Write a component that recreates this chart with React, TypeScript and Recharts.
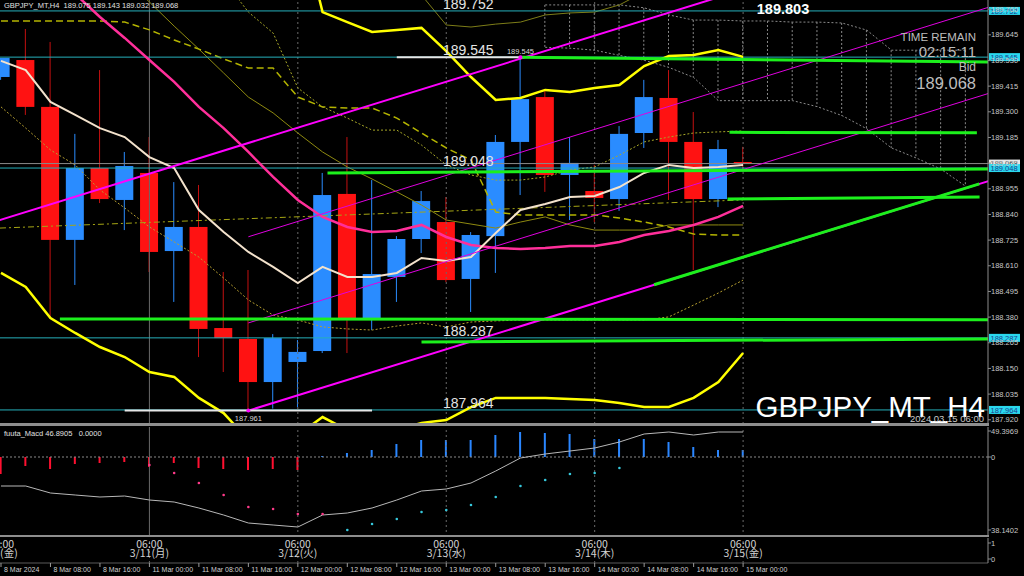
import React from "react";
import {
  ComposedChart,
  XAxis,
  YAxis,
  Bar,
  Line,
  ReferenceLine,
  ReferenceDot,
} from "recharts";

const SANS = "'Liberation Sans', Arial, sans-serif";
const NARROW = "'Liberation Sans Narrow', 'Liberation Sans', Arial, sans-serif";
const JP = "'Noto Sans CJK JP', 'Liberation Sans', sans-serif";

// H4 candles, index 0 = 8 Mar 00:00 (server time)
const candleOpen = [189.456, 189.532, 189.322, 188.726, 189.048, 188.905, 189.026, 188.676, 188.784, 188.331, 188.282, 188.089, 188.179, 188.228, 188.932, 188.376, 188.56, 188.73, 188.806, 188.551, 188.743, 189.165, 189.366, 189.017, 188.945, 188.909, 189.205, 189.362, 189.165, 188.909, 189.075];
const candleHigh = [189.541, 189.671, 189.613, 189.201, 189.487, 189.12, 189.187, 188.985, 188.972, 188.582, 188.591, 188.304, 188.277, 189.026, 189.187, 188.994, 188.743, 188.945, 188.918, 188.761, 189.196, 189.545, 189.402, 189.187, 189.062, 189.236, 189.443, 189.487, 189.299, 189.174, 189.143];
const candleLow = [189.443, 189.286, 188.381, 188.524, 188.891, 188.77, 188.582, 188.448, 188.201, 188.134, 187.961, 187.97, 187.977, 188.219, 188.219, 188.322, 188.448, 188.667, 188.537, 188.403, 188.578, 188.927, 188.941, 188.815, 188.806, 188.856, 189.138, 188.905, 188.591, 188.873, 189.032];
const candleClose = [189.541, 189.322, 188.726, 189.048, 188.909, 189.057, 188.672, 188.784, 188.327, 188.286, 188.089, 188.286, 188.224, 188.927, 188.376, 188.573, 188.73, 188.9, 188.546, 188.748, 189.165, 189.357, 189.017, 189.071, 188.914, 189.201, 189.366, 189.165, 188.909, 189.133, 189.068];

// indicators on the price window
const maFast = [189.528, 189.487, 189.344, 189.286, 189.227, 189.187, 189.097, 189.048, 188.86, 188.761, 188.672, 188.605, 188.533, 188.605, 188.56, 188.56, 188.578, 188.645, 188.631, 188.649, 188.757, 188.86, 188.887, 188.918, 188.923, 188.963, 189.026, 189.062, 189.048, 189.053, 189.062];
const maSlow = [190.128, 190.025, 189.926, 189.828, 189.725, 189.631, 189.532, 189.434, 189.322, 189.227, 189.12, 189.008, 188.905, 188.829, 188.784, 188.761, 188.766, 188.793, 188.739, 188.703, 188.69, 188.685, 188.69, 188.699, 188.699, 188.717, 188.748, 188.766, 188.793, 188.829, 188.878];
const bbUpper = [null, null, null, null, null, null, null, null, null, null, null, null, 190.19, 189.747, 189.702, 189.658, 189.667, 189.676, 189.572, 189.456, 189.353, 189.362, 189.398, 189.389, 189.407, 189.42, 189.505, 189.55, 189.555, 189.577, 189.546];
const bbLower = [188.578, 188.515, 188.376, 188.309, 188.246, 188.201, 188.134, 188.112, 188.018, 187.95, 187.829, 187.807, 187.852, 187.932, 187.874, 187.852, 187.874, 187.906, 187.919, 187.977, 188.018, 188.018, 188.018, 188.013, 188.009, 187.995, 187.977, 187.977, 188.018, 188.089, 188.219];
const oliveLine = [null, null, null, null, null, 189.9, 189.792, 189.684, 189.581, 189.474, 189.366, 189.295, 189.205, 189.12, 189.053, 188.999, 188.941, 188.882, 188.815, 188.797, 188.779, 188.806, 188.829, 188.793, 188.77, 188.77, 188.77, 188.793, 188.793, 188.793, 188.793];
const kijunLine = [189.707, 189.707, 189.707, 189.707, 189.707, 189.702, 189.667, 189.622, 189.581, 189.537, 189.496, 189.496, 189.366, 189.322, 189.317, 189.317, 189.272, 189.205, 189.138, 189.084, 188.851, 188.838, 188.838, 188.838, 188.838, 188.824, 188.806, 188.784, 188.752, 188.748, 188.748];
const dottedLow = [189.322, 189.227, 189.129, 189.062, 188.95, 188.869, 188.784, 188.717, 188.649, 188.555, 188.457, 188.389, 188.367, 188.336, 188.327, 188.322, 188.34, 188.354, 188.336, 188.358, 188.363, 188.367, 188.367, 188.367, 188.367, 188.367, 188.367, 188.381, 188.434, 188.488, 188.546];
const dottedHigh = [null, null, null, null, null, null, null, null, null, 189.891, 189.747, 189.653, 189.407, 189.322, 189.272, 189.218, 189.218, 189.151, 189.062, 189.017, 188.994, 188.994, 189.008, 189.039, 189.053, 189.106, 189.165, 189.187, 189.205, 189.21, 189.214];
const outerBand = [null, null, null, null, null, null, null, null, null, null, null, null, null, null, null, null, 189.98, 189.823, 189.689, 189.68, 189.693, 189.702, 189.734, 189.743, 189.747, 189.779, 189.837, 189.88, 189.9, 189.92, 189.93];

// future cloud, starting at candle 22
const CLOUD_START = 22;
const cloudTop = [189.779, 189.779, 189.779, 189.779, 189.766, 189.734, 189.711, 189.711, 189.707, 189.707, 189.702, 189.702, 189.698, 189.666, 189.576, 189.576, 189.576, 189.576];
const cloudBottom = [189.589, 189.585, 189.576, 189.553, 189.531, 189.499, 189.454, 189.35, 189.35, 189.35, 189.35, 189.323, 189.283, 189.224, 189.138, 189.093, 189.043, 188.966];

// MACD sub window (scaled units)
const macdHist = [-17, -9, -12, -7, -6, -5, -10, -6, -11, -12, -13, -12, -13, 1, 4, 7, 13, 17, 17, 17, 22, 25, 24, 23, 18, 18, 18, 15, 10, 7, 7];
const macdLine = [-29, -29, -36, -38, -40, -39, -43, -45, -51, -58, -66, -68, -70, -58, -56, -51, -43, -34, -32, -26, -14, -1, 3, 6, 9, 15, 23, 25, 22, 25, 25];
const macdSignal = [null, null, null, null, null, null, -8, -16, -26, -38, -50, -52, -57, -57, -73, -67, -62, -55, -53, -48, -40, -29, -23, -17, -16, -11, null, null, null, null, null];
const SIGNAL_TURN = 14;
const macdTicks = [26, 0, -73];
const macdTickLabels = ["49.3969", "0", "38.1402"];

// axes
const priceTicks = [187.92, 188.035, 188.15, 188.265, 188.38, 188.495, 188.61, 188.725, 188.84, 188.955, 189.07, 189.185, 189.3, 189.415, 189.53, 189.645, 189.76];
const levelPrices = [189.752, 189.545, 189.048, 188.287, 187.964];
const bidPrice = candleClose[candleClose.length - 1];
const timeTickIdx = [0, 2, 4, 6, 8, 10, 12, 14, 16, 18, 20, 22, 24, 26, 28, 30];
const timeLabels = ["8 Mar 2024", "8 Mar 08:00", "8 Mar 16:00", "11 Mar 00:00", "11 Mar 08:00", "11 Mar 16:00", "12 Mar 00:00", "12 Mar 08:00", "12 Mar 16:00", "13 Mar 00:00", "13 Mar 08:00", "13 Mar 16:00", "14 Mar 00:00", "14 Mar 08:00", "14 Mar 16:00", "15 Mar 00:00"];
const dayIdx = [0, 6, 12, 18, 24, 30];
const dayLabels = ["3/8(金)", "3/11(月)", "3/12(火)", "3/13(水)", "3/14(木)", "3/15(金)"];
const daySeparatorIdx = [6, 12, 18, 24, 30];

// hand drawn objects: [x1, price1, x2, price2]
const channelUpper = [-1, 188.782, 40, 190.191];
const channelLower = [10, 187.961, 40, 188.992];
const channelThin = [
  [10, 188.74, 40, 189.771],
  [10, 188.354, 40, 189.385],
];
const greenLines = [
  [21, 189.545, 39.9, 189.523],
  [29.45, 189.208, 39.45, 189.206],
  [13.2, 189.026, 39.9, 189.044],
  [29.37, 188.909, 39.56, 188.918],
  [2.38, 188.372, 39.9, 188.368],
  [17, 188.269, 39.9, 188.282],
  [26.4, 188.525, 39.55, 188.977],
];
const whiteSegments = [
  [16, 189.545, 21, 189.545],
  [5, 187.961, 15, 187.961],
];
const regressionLine = [-0.04, 188.779, 30, 188.905];
const extremeDots = [
  { i: 21, price: 189.545, below: false },
  { i: 10, price: 187.961, below: true },
];

const X_DOMAIN: [number, number] = [-0.04, 39.9];
const PRICE_DOMAIN: [number, number] = [187.901, 189.801];
const MACD_DOMAIN: [number, number] = [-80, 30];

const SLOTS = 40;
const priceRows = Array.from({ length: SLOTS }, (_, i) => ({
  i,
  open: candleOpen[i],
  high: candleHigh[i],
  low: candleLow[i],
  close: candleClose[i],
  maFast: maFast[i],
  maSlow: maSlow[i],
  bbUpper: bbUpper[i],
  bbLower: bbLower[i],
  olive: oliveLine[i],
  kijun: kijunLine[i],
  dotLow: dottedLow[i],
  dotHigh: dottedHigh[i],
  outer: outerBand[i],
  cloudTop: i >= CLOUD_START ? cloudTop[i - CLOUD_START] : undefined,
  cloudBottom: i >= CLOUD_START ? cloudBottom[i - CLOUD_START] : undefined,
}));

const macdRows = macdHist.map((h, i) => ({
  i,
  hist: h,
  macd: macdLine[i],
  signal: macdSignal[i],
}));

const BULL = "#2a8cff";
const BEAR = "#ff1212";
const BEAR_WICK = "#c41010";
const AXIS = "#8c8c8c";
const CYAN_LINE = "#26b0bb";
const GREEN = "#1cf01c";
const MAGENTA = "#ff00ff";
const SEP = "#6a6a6a";

const candleRange = (d: any) => (d.high == null ? null : [d.low, d.high]);
const cloudRange = (d: any) => (d.cloudTop == null ? null : [d.cloudBottom, d.cloudTop]);

function Candle(props: any) {
  const { x, y, width, height } = props;
  const d = props.payload;
  if (!d || d.open == null || !isFinite(y) || !isFinite(height)) return <g />;
  const top = Math.min(y, y + height);
  const span = Math.abs(height);
  const k = d.high > d.low ? span / (d.high - d.low) : 0;
  const yOf = (v: number) => top + (d.high - v) * k;
  const up = d.close >= d.open;
  const color = up ? BULL : BEAR;
  const cx = x + width / 2;
  const bodyTop = yOf(Math.max(d.open, d.close));
  const bodyBottom = yOf(Math.min(d.open, d.close));
  return (
    <g>
      <line x1={cx} x2={cx} y1={top} y2={top + span} stroke={up ? BULL : BEAR_WICK} strokeWidth={1} />
      <rect x={x} y={bodyTop} width={width} height={Math.max(1.5, bodyBottom - bodyTop)} fill={color} />
    </g>
  );
}

function CloudHatch(props: any) {
  const { x, y, width, height, payload } = props;
  if (!payload || payload.cloudTop == null || !isFinite(y) || !isFinite(height)) return <g />;
  const cx = x + width / 2;
  return (
    <line x1={cx} x2={cx} y1={Math.min(y, y + height)} y2={Math.max(y, y + height)} stroke="#8a8a8a" strokeWidth={1} strokeDasharray="2 2" />
  );
}

function HistBar(props: any) {
  const { x, y, width, height, payload } = props;
  if (!payload || payload.hist == null || !isFinite(y) || !isFinite(height)) return <g />;
  return (
    <rect x={x} y={Math.min(y, y + height)} width={width} height={Math.abs(height)} fill={payload.hist < 0 ? "#ff1030" : "#2a86ff"} />
  );
}

const SignalDot = (p: any) => {
  if (p.cy == null || !isFinite(p.cy) || p.payload?.signal == null) return <g key={`s${p.index}`} />;
  return <circle key={`s${p.index}`} cx={p.cx} cy={p.cy} r={1.3} fill={p.payload.i < SIGNAL_TURN ? "#ff3a8a" : "#36c8dc"} />;
};

const PriceTick = (p: any) => (
  <text x={p.x} y={p.y + 2.6} fill="#c8c8c8" fontSize={7.5} fontFamily={SANS}>
    {Number(p.payload.value).toFixed(3)}
  </text>
);

const MacdTick = (p: any) => (
  <text x={p.x} y={p.y + 2.6} fill="#c8c8c8" fontSize={7.5} fontFamily={SANS}>
    {macdTickLabels[macdTicks.indexOf(p.payload.value)]}
  </text>
);

const FlagTick = (p: any) => (
  <text x={p.x} y={p.y + 2.6} fill="#c8c8c8" fontSize={7.5} fontFamily={SANS}>
    {p.payload.value}
  </text>
);

const TimeTick = (p: any) => (
  <g>
    <line x1={p.x} x2={p.x} y1={p.y} y2={p.y + 4} stroke="#9a9a9a" />
    <text x={p.x + 3} y={p.y + 8.8} fill="#cfcfcf" fontSize={7} fontFamily={SANS}>
      {timeLabels[timeTickIdx.indexOf(p.payload.value)]}
    </text>
  </g>
);

const levelLabel = (price: number) => (props: any) => {
  const vb = props.viewBox || {};
  const y = vb.y ?? 0;
  const right = (vb.x ?? 0) + (vb.width ?? 0);
  const text = price.toFixed(3);
  return (
    <g>
      <text x={443} y={y - 2} fill="#e4e4e4" fontSize={14} fontFamily={SANS}>
        {text}
      </text>
      <rect x={right + 1} y={y - 4} width={31} height={8} fill="#2ad8ee" />
      <text x={right + 2.5} y={y + 2.8} fill="#1d3d8c" fontSize={7.5} fontFamily={SANS}>
        {text}
      </text>
    </g>
  );
};

const bidLabel = (props: any) => {
  const vb = props.viewBox || {};
  const y = vb.y ?? 0;
  const right = (vb.x ?? 0) + (vb.width ?? 0);
  return (
    <g>
      <rect x={right + 1} y={y - 4} width={31} height={8} fill="#e8e8e8" />
      <text x={right + 2.5} y={y + 2.8} fill="#222" fontSize={7.5} fontFamily={SANS}>
        {bidPrice.toFixed(3)}
      </text>
    </g>
  );
};

const extremeLabel = (price: number, below: boolean) => (props: any) => {
  const vb = props.viewBox || {};
  const cx = (vb.x ?? 0) + (vb.width ?? 0) / 2;
  const cy = (vb.y ?? 0) + (vb.height ?? 0) / 2;
  return (
    <text x={cx} y={below ? cy + 10 : cy - 3} textAnchor="middle" fill="#d8d8d8" fontSize={7.5} fontFamily={SANS}>
      {price.toFixed(3)}
    </text>
  );
};

const dayLabel = (k: number) => (props: any) => {
  const vb = props.viewBox || {};
  const x = vb.x ?? 0;
  const y = vb.y ?? 0;
  return (
    <g fill="#d2d2d2" fontSize={10.5} fontFamily={JP} textAnchor="middle">
      <text x={x} y={y + 9.5}>06:00</text>
      <text x={x} y={y + 19}>{dayLabels[k]}</text>
    </g>
  );
};

const seg = (s: number[]) => [
  { x: s[0], y: s[1] },
  { x: s[2], y: s[3] },
];

export default function App() {
  const last = candleOpen.length - 1;
  const header = `GBPJPY_MT,H4  ${candleOpen[last].toFixed(3)} ${candleHigh[last].toFixed(3)} ${candleLow[last].toFixed(3)} ${candleClose[last].toFixed(3)}`;
  const lineProps = { dot: false, activeDot: false, isAnimationActive: false } as const;

  return (
    <div style={{ position: "absolute", left: 0, top: 0, width: 1024, height: 576, background: "#000", overflow: "hidden" }}>
      <div style={{ position: "absolute", left: 0, top: 0 }}>
        <ComposedChart width={1024} height={424} data={priceRows} margin={{ top: 0, right: 0, bottom: 0, left: 0 }}>
          <XAxis dataKey="i" type="number" domain={X_DOMAIN} allowDataOverflow hide />
          <XAxis xAxisId="cloud" dataKey="i" type="number" domain={X_DOMAIN} allowDataOverflow hide />
          <YAxis
            orientation="right"
            width={36}
            type="number"
            domain={PRICE_DOMAIN}
            allowDataOverflow
            ticks={priceTicks}
            interval={0}
            tickSize={3}
            tickMargin={0}
            axisLine={{ stroke: AXIS }}
            tickLine={{ stroke: AXIS }}
            tick={PriceTick}
          />
          {daySeparatorIdx.map((d) => (
            <ReferenceLine key={`sep${d}`} x={d} stroke={SEP} strokeDasharray={d === 6 ? undefined : "2 3"} />
          ))}

          <Bar xAxisId="cloud" dataKey={cloudRange} barSize={2} shape={CloudHatch} isAnimationActive={false} />
          <Line dataKey="cloudTop" stroke="#8a8a8a" strokeWidth={1} strokeDasharray="2 2" {...lineProps} />
          <Line dataKey="cloudBottom" stroke="#8a8a8a" strokeWidth={1} strokeDasharray="2 2" {...lineProps} />

          <Line dataKey="outer" stroke="#7d7d18" strokeWidth={1} {...lineProps} />
          <Line dataKey="olive" stroke="#8f8a10" strokeWidth={1} {...lineProps} />
          <Line dataKey="kijun" stroke="#b4b400" strokeWidth={1.5} strokeDasharray="7 4" {...lineProps} />
          <Line dataKey="dotLow" stroke="#b8a030" strokeWidth={1} strokeDasharray="2 2" {...lineProps} />
          <Line dataKey="dotHigh" stroke="#a8a828" strokeWidth={1} strokeDasharray="2 2" {...lineProps} />
          <ReferenceLine segment={seg(regressionLine)} stroke="#a6a614" strokeWidth={1} strokeDasharray="6 3 2 3" ifOverflow="hidden" />

          {levelPrices.map((p) => (
            <ReferenceLine key={`lv${p}`} y={p} stroke={CYAN_LINE} strokeWidth={1} />
          ))}
          <ReferenceLine y={bidPrice} stroke="#8a8a8a" strokeWidth={1} />

          <Bar dataKey={candleRange} barSize={18} shape={Candle} isAnimationActive={false} />

          <Line dataKey="bbUpper" stroke="#ffff00" strokeWidth={2.5} {...lineProps} />
          <Line dataKey="bbLower" stroke="#ffff00" strokeWidth={2.5} {...lineProps} />
          <Line dataKey="maSlow" stroke="#ff2f9a" strokeWidth={2.5} {...lineProps} />
          <Line dataKey="maFast" stroke="#f3e2cc" strokeWidth={2} {...lineProps} />

          <ReferenceLine segment={seg(channelUpper)} stroke={MAGENTA} strokeWidth={2} ifOverflow="hidden" />
          <ReferenceLine segment={seg(channelLower)} stroke={MAGENTA} strokeWidth={2} ifOverflow="hidden" />
          {channelThin.map((s, k) => (
            <ReferenceLine key={`thin${k}`} segment={seg(s)} stroke="#e000e0" strokeWidth={1} ifOverflow="hidden" />
          ))}
          {whiteSegments.map((s, k) => (
            <ReferenceLine key={`w${k}`} segment={seg(s)} stroke="#e6e6e6" strokeWidth={2} ifOverflow="hidden" />
          ))}
          {greenLines.map((s, k) => (
            <ReferenceLine key={`g${k}`} segment={seg(s)} stroke={GREEN} strokeWidth={3} ifOverflow="hidden" />
          ))}
          {extremeDots.map((d) => (
            <ReferenceDot key={`ex${d.i}`} x={d.i} y={d.price} r={2} fill={MAGENTA} stroke="none" label={extremeLabel(d.price, d.below)} />
          ))}

          <ReferenceLine y={bidPrice} stroke="none" label={bidLabel} />
          {levelPrices.map((p) => (
            <ReferenceLine key={`lvl${p}`} y={p} stroke="none" label={levelLabel(p)} />
          ))}
        </ComposedChart>
      </div>

      <div style={{ position: "absolute", left: 0, top: 427 }}>
        <ComposedChart width={1024} height={110} data={macdRows} margin={{ top: 0, right: 0, bottom: 0, left: 0 }}>
          <XAxis dataKey="i" type="number" domain={X_DOMAIN} allowDataOverflow hide />
          <YAxis
            orientation="right"
            width={36}
            type="number"
            domain={MACD_DOMAIN}
            allowDataOverflow
            ticks={macdTicks}
            interval={0}
            tickSize={3}
            tickMargin={0}
            axisLine={{ stroke: AXIS }}
            tickLine={{ stroke: AXIS }}
            tick={MacdTick}
          />
          {daySeparatorIdx.map((d) => (
            <ReferenceLine key={`msep${d}`} x={d} stroke={SEP} strokeDasharray={d === 6 ? undefined : "2 3"} />
          ))}
          <ReferenceLine y={0} stroke="#8a8a8a" strokeDasharray="2 2" />
          <Bar dataKey="hist" barSize={2} shape={HistBar} isAnimationActive={false} />
          <Line dataKey="macd" stroke="#b8b8b8" strokeWidth={1} {...lineProps} />
          <Line dataKey="signal" stroke="none" dot={SignalDot} activeDot={false} isAnimationActive={false} />
        </ComposedChart>
      </div>

      <div style={{ position: "absolute", left: 0, top: 538 }}>
        <ComposedChart width={1024} height={38} data={priceRows} margin={{ top: 0, right: 0, bottom: 0, left: 0 }}>
          <XAxis
            dataKey="i"
            type="number"
            domain={X_DOMAIN}
            allowDataOverflow
            ticks={timeTickIdx}
            interval={0}
            height={13}
            tickSize={0}
            tickMargin={0}
            axisLine={{ stroke: "#5a5a5a" }}
            tickLine={false}
            tick={TimeTick}
          />
          <YAxis
            orientation="right"
            width={36}
            type="number"
            domain={[-0.25, 1.3125]}
            allowDataOverflow
            ticks={[0, 1]}
            interval={0}
            tickSize={3}
            tickMargin={0}
            axisLine={{ stroke: AXIS }}
            tickLine={{ stroke: AXIS }}
            tick={FlagTick}
          />
          {dayIdx.map((d, k) => (
            <ReferenceLine key={`day${d}`} x={d} stroke={d === 0 ? "none" : SEP} strokeDasharray="2 3" label={dayLabel(k)} />
          ))}
        </ComposedChart>
      </div>

      <div style={{ position: "absolute", left: 0, top: 423, width: 989, height: 3, background: "#8e8e8e" }} />
      <div style={{ position: "absolute", left: 0, top: 535, width: 989, height: 2, background: "#8e8e8e" }} />

      <svg width={1024} height={576} style={{ position: "absolute", left: 0, top: 0, pointerEvents: "none" }}>
        <text x={4} y={8} fill="#e0e0e0" fontSize={7.5} fontFamily={SANS} style={{ whiteSpace: "pre" }}>
          {header}
        </text>
        <text x={783} y={14} textAnchor="middle" fill="#ffffff" fontSize={14.5} fontWeight="bold" fontFamily={SANS}>
          189.803
        </text>
        <g fill="#bdbdbd" fontFamily={NARROW} textAnchor="end">
          <text x={976} y={41} fontSize={11.5}>TIME REMAIN</text>
          <text x={976} y={57} fontSize={15}>02:15:11</text>
          <text x={976} y={71} fontSize={12}>Bid</text>
          <text x={976} y={89} fontSize={16.5}>{bidPrice.toFixed(3)}</text>
        </g>
        <text x={985} y={417} textAnchor="end" fill="#ffffff" fontSize={29.5} fontFamily={SANS}>
          GBPJPY_MT_H4
        </text>
        <text x={984} y={422} textAnchor="end" fill="#c8c8c8" fontSize={9.5} fontFamily={SANS}>
          2024.03.15 06:00
        </text>
        <text x={4} y={436} fill="#e0e0e0" fontSize={7.5} fontFamily={SANS} style={{ whiteSpace: "pre" }}>
          {"fuuta_Macd 46.8905   0.0000"}
        </text>
      </svg>
    </div>
  );
}
